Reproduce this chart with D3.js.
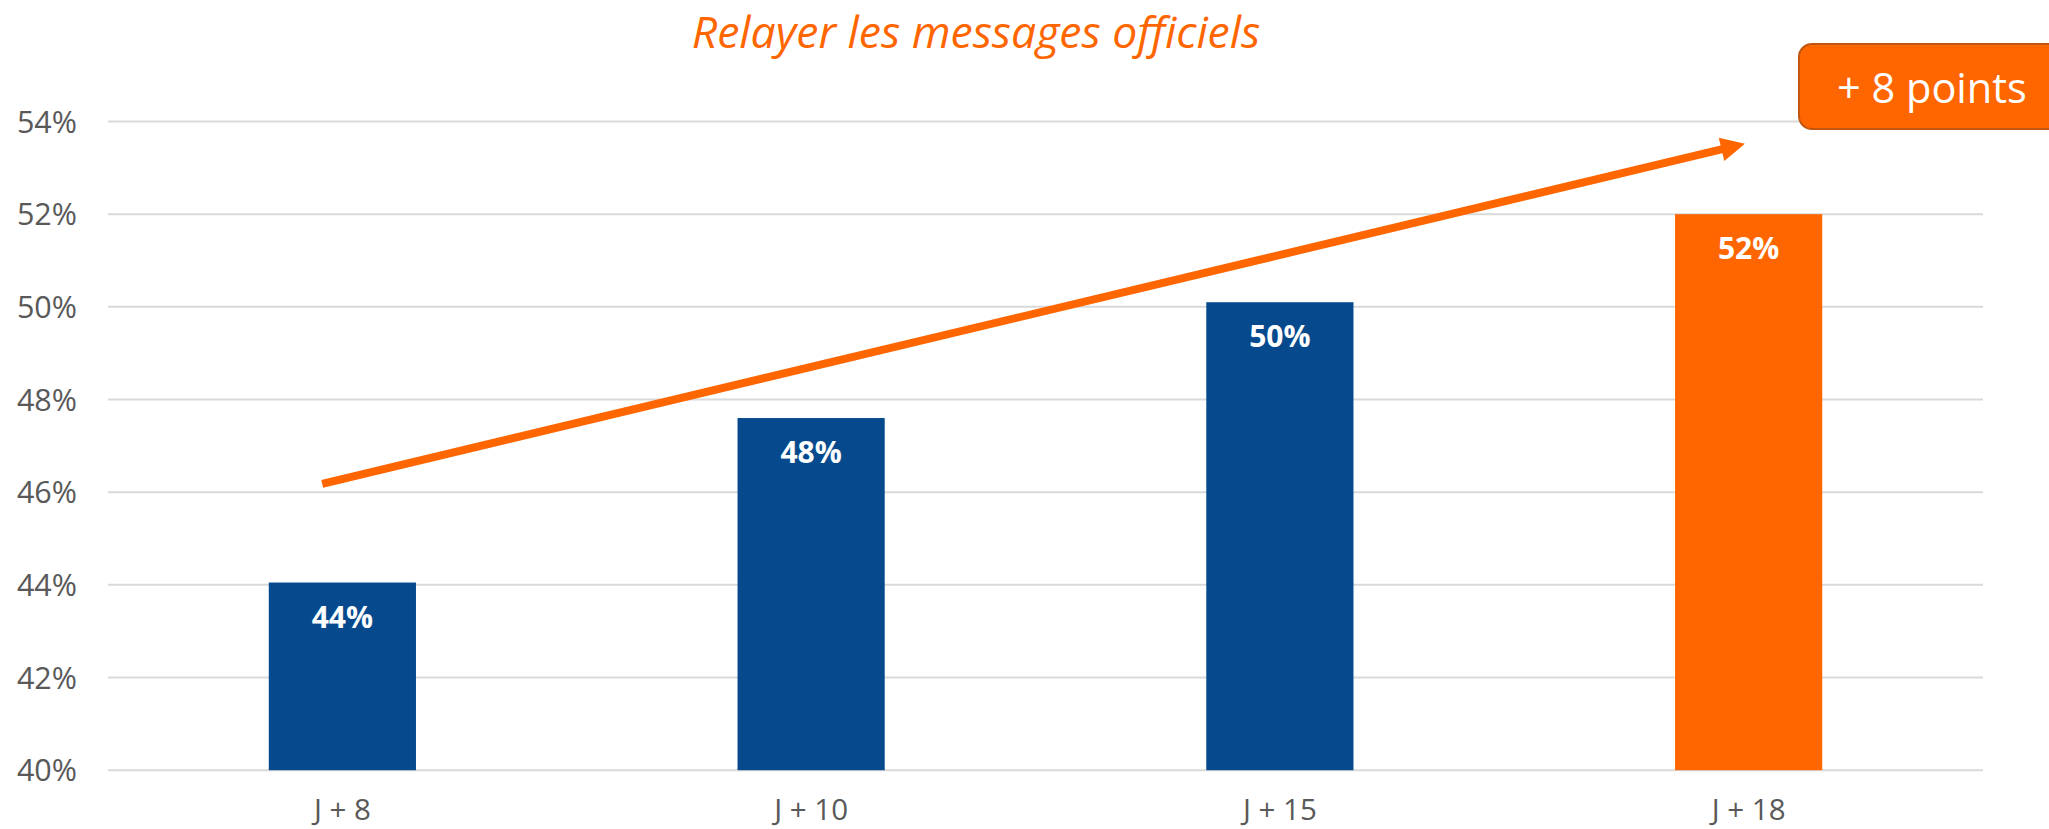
<!DOCTYPE html>
<html>
<head>
<meta charset="utf-8">
<script src="https://cdn.jsdelivr.net/npm/d3@7/dist/d3.min.js"></script>
<style>
  html, body { margin: 0; padding: 0; background: #ffffff; }
  svg { display: block; }
</style>
</head>
<body>
<svg id="chart" width="2049" height="829"></svg>
<script>
// ---- Data ----
const categories = ["J + 8", "J + 10", "J + 15", "J + 18"];
const values = [44.05, 47.6, 50.1, 52.0];
const valueLabels = ["44%", "48%", "50%", "52%"];
const barColors = ["#064A8D", "#064A8D", "#064A8D", "#FF6600"];
const yTicks = [40, 42, 44, 46, 48, 50, 52, 54];
const titleText = "Relayer les messages officiels";
const calloutText = "+ 8 points";
// trend arrow, in data terms: [category, offset fraction of step, value]
const arrowStart = ["J + 8", -0.043, 46.18];
const arrowEnd = ["J + 18", -0.008, 53.52];

// ---- Layout ----
const plotLeft = 108, plotRight = 1983, plotTop = 121.5, plotBottom = 770.2;
const orange = "#FF6600";
const font = "'Open Sans', 'DejaVu Sans', sans-serif";

const svg = d3.select("#chart");

const x = d3.scaleBand().domain(categories).range([plotLeft, plotRight])
  .paddingInner(0.686).paddingOuter(0.343);
const y = d3.scaleLinear().domain([40, 54]).range([plotBottom, plotTop]);

// gridlines
svg.append("g").selectAll("line").data(yTicks).join("line")
  .attr("x1", plotLeft).attr("x2", plotRight)
  .attr("y1", d => y(d)).attr("y2", d => y(d))
  .attr("stroke", "#D9D9D9").attr("stroke-width", 2);

// y axis labels
const yAxis = d3.axisLeft(y).tickValues(yTicks).tickFormat(d => d + "%").tickSize(0).tickPadding(0);
const yg = svg.append("g").attr("transform", `translate(${plotLeft - 31},0)`).call(yAxis);
yg.select(".domain").remove();
yg.selectAll("text").attr("font-family", font).attr("font-size", 30.5).attr("fill", "#595959")
  .attr("dy", "0.35em");

// x axis labels
const xAxis = d3.axisBottom(x).tickSize(0).tickPadding(0);
const xg = svg.append("g").attr("transform", `translate(0,${plotBottom})`).call(xAxis);
xg.select(".domain").remove();
xg.selectAll("text").attr("font-family", font).attr("font-size", 29.5).attr("fill", "#595959")
  .attr("dy", null).attr("y", 50);

// bars
svg.append("g").selectAll("rect").data(categories).join("rect")
  .attr("x", d => x(d)).attr("width", x.bandwidth())
  .attr("y", (d, i) => y(values[i]))
  .attr("height", (d, i) => y(40) - y(values[i]))
  .attr("fill", (d, i) => barColors[i]);

// value labels
svg.append("g").selectAll("text").data(categories).join("text")
  .attr("x", d => x(d) + x.bandwidth() / 2)
  .attr("y", (d, i) => y(values[i]) + 45)
  .attr("text-anchor", "middle")
  .attr("font-family", font).attr("font-weight", "bold").attr("font-size", 30)
  .attr("fill", "#ffffff")
  .text((d, i) => valueLabels[i]);

// title
svg.append("text")
  .attr("x", 976).attr("y", 48)
  .attr("text-anchor", "middle")
  .attr("font-family", font).attr("font-style", "italic").attr("font-size", 44.5)
  .attr("fill", orange)
  .text(titleText);

// trend arrow
const cx = (a) => x(a[0]) + x.bandwidth() / 2 + a[1] * x.step();
const x1 = cx(arrowStart), y1 = y(arrowStart[2]);
const x2 = cx(arrowEnd), y2 = y(arrowEnd[2]);
const ang = Math.atan2(y2 - y1, x2 - x1);
const headLen = 24, headHalf = 12;
const bx = x2 - headLen * Math.cos(ang), by = y2 - headLen * Math.sin(ang);
svg.append("line")
  .attr("x1", x1).attr("y1", y1).attr("x2", bx + 2 * Math.cos(ang)).attr("y2", by + 2 * Math.sin(ang))
  .attr("stroke", orange).attr("stroke-width", 8);
const px = -Math.sin(ang), py = Math.cos(ang);
svg.append("path")
  .attr("d", d3.line()([
    [x2, y2],
    [bx + headHalf * px, by + headHalf * py],
    [bx - headHalf * px, by - headHalf * py]
  ]) + "Z")
  .attr("fill", orange);

// callout box
svg.append("rect")
  .attr("x", 1799).attr("y", 44).attr("width", 290).attr("height", 85)
  .attr("rx", 13).attr("ry", 13)
  .attr("fill", orange).attr("stroke", "#C0560F").attr("stroke-width", 2);
svg.append("text")
  .attr("x", 1837).attr("y", 102.5)
  .attr("font-family", font).attr("font-size", 41.5)
  .attr("fill", "#ffffff")
  .text(calloutText);
</script>
</body>
</html>
